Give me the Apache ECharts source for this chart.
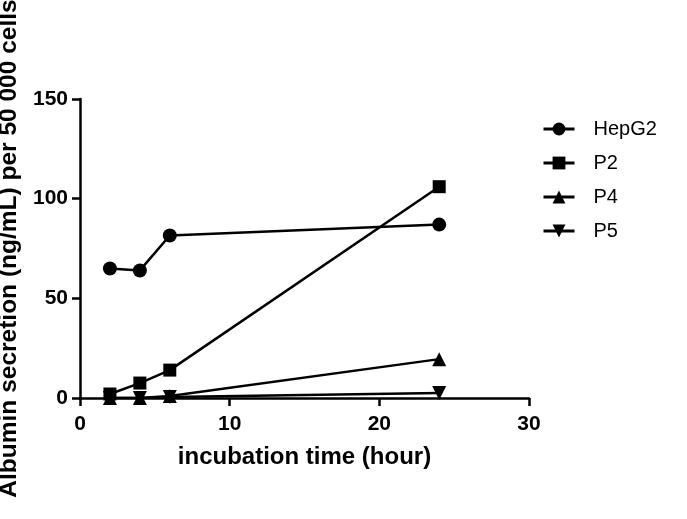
<!DOCTYPE html>
<html>
<head>
<meta charset="utf-8">
<script src="https://cdn.jsdelivr.net/npm/echarts@6/dist/echarts.min.js"></script>
<style>
  html, body { margin: 0; padding: 0; background: #fff; }
  #chart { width: 687px; height: 519px; }
</style>
</head>
<body>
<div id="chart"></div>
<script>
// incubation time (hour)
var hours = [2, 4, 6, 24]
var hepg2 = [65, 64, 81.5, 87]
var p2 = [2, 7.5, 14, 106]
var p4 = [0, 0, 1, 19.5]
var p5 = [0, 0, 0.5, 2.5]

function pairs(vals) {
  return hours.map(function (h, i) { return [h, vals[i]] })
}

var font = 'Liberation Sans, Arial, sans-serif'

function makeSeries(name, vals, symbol, size, rotate) {
  return {
    name: name,
    type: 'line',
    data: pairs(vals),
    symbol: symbol,
    symbolSize: size,
    symbolRotate: rotate || 0,
    showAllSymbol: true,
    lineStyle: { color: '#000', width: 2.5 },
    itemStyle: { color: '#000' },
    animation: false
  }
}

var chart = echarts.init(document.getElementById('chart'))
chart.setOption({
  backgroundColor: '#fff',
  grid: { left: 80, right: 158, top: 99, bottom: 121, outerBoundsMode: 'none', containLabel: false },
  legend: {
    orient: 'vertical',
    left: 537,
    top: 114,
    itemWidth: 31,
    itemHeight: 16,
    itemGap: 14,
    lineStyle: { width: 3 },
    textStyle: { fontFamily: font, fontSize: 20, color: '#000', padding: [0, 0, 0, 14] },
    data: ['HepG2', 'P2', 'P4', 'P5']
  },
  xAxis: {
    type: 'value',
    min: 0,
    max: 30,
    interval: 10,
    name: 'incubation time (hour)',
    nameLocation: 'middle',
    nameGap: 47,
    nameTextStyle: { fontFamily: font, fontSize: 24, fontWeight: 'bold', color: '#000' },
    axisLine: { lineStyle: { color: '#000', width: 2.5 } },
    axisTick: { show: true, length: 8, lineStyle: { color: '#000', width: 2.5 } },
    axisLabel: { fontFamily: font, fontSize: 21, fontWeight: 'bold', color: '#000', margin: 16 },
    splitLine: { show: false }
  },
  yAxis: {
    type: 'value',
    min: 0,
    max: 150,
    interval: 50,
    name: 'Albumin secretion (ng/mL) per 50 000 cells',
    nameLocation: 'middle',
    nameGap: 56,
    nameTextStyle: { fontFamily: font, fontSize: 24.5, fontWeight: 'bold', color: '#000' },
    axisLine: { show: true, lineStyle: { color: '#000', width: 2.5 } },
    axisTick: { show: true, length: 8, lineStyle: { color: '#000', width: 2.5 } },
    axisLabel: { fontFamily: font, fontSize: 21, fontWeight: 'bold', color: '#000', margin: 12 },
    splitLine: { show: false }
  },
  series: [
    makeSeries('HepG2', hepg2, 'circle', 14),
    makeSeries('P2', p2, 'rect', 13),
    makeSeries('P4', p4, 'triangle', 14),
    makeSeries('P5', p5, 'triangle', 14, 180)
  ]
})
</script>
</body>
</html>
